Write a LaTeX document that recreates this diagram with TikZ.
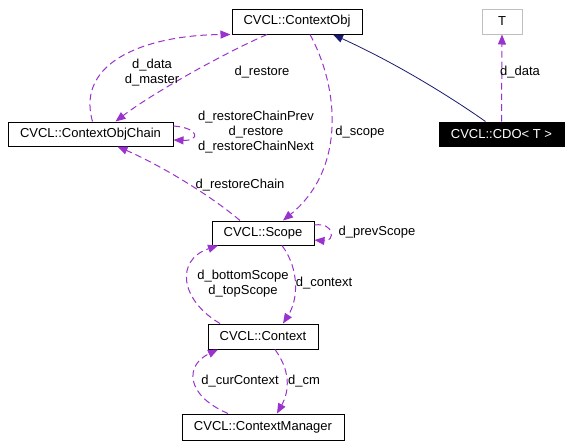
\documentclass[tikz,border=0pt]{standalone}
\usepackage{fontspec}
\setmainfont{Liberation Sans}
\usepackage{tikz}
\usetikzlibrary{arrows.meta,calc}
\definecolor{cdpurple}{HTML}{9A32CD}
\definecolor{cdnavy}{HTML}{191970}
\tikzset{
  cdfont/.style={font=\fontsize{9.75pt}{11.25pt}\selectfont},
  cdbox/.style={cdfont, draw=black, line width=0.75pt, fill=white, inner sep=0pt, minimum height=18.75pt},
  cdghost/.style={cdbox, draw=black!25},
  cdcur/.style={cdbox, fill=black, text=white},
  cdlbl/.style={cdfont, align=center, inner sep=0pt},
  cdmember/.style={draw=cdpurple, line width=0.75pt, dash pattern=on 5pt off 3pt, -{Triangle[length=7.5pt,width=6pt,fill=cdpurple]}},
  cdinherit/.style={draw=cdnavy, line width=0.6pt, -{Triangle[length=7.5pt,width=6pt,fill=cdnavy]}},
}
\begin{document}
\begin{tikzpicture}[x=0.75pt,y=-0.75pt]
\useasboundingbox (0,0) rectangle (571,447);
\node[cdbox, minimum width=130*0.75pt] (ctxobj) at (297,21.5) {CVCL::ContextObj};
\node[cdghost, minimum width=40*0.75pt] (tparam) at (502,21.5) {T};
\node[cdcur, minimum width=125*0.75pt, minimum height=18pt] (cdo) at (501.5,134) {CVCL::CDO< T >};
\node[cdbox, minimum width=165*0.75pt, minimum height=18pt] (chain) at (90.5,134) {CVCL::ContextObjChain};
\node[cdbox, minimum width=102*0.75pt, minimum height=18pt] (scope) at (263,233) {CVCL::Scope};
\node[cdbox, minimum width=110*0.75pt] (context) at (263,336.5) {CVCL::Context};
\node[cdbox, minimum width=162*0.75pt, minimum height=19.5pt] (manager) at (263,427) {CVCL::ContextManager};
\draw[cdinherit] ($(cdo.north)+(-16,0)$) .. controls (455,100) and (400,65) .. ($(ctxobj.south)+(36,0)$);
\draw[cdmember] (cdo.north) -- (tparam.south);
\draw[cdmember] ($(chain.north)+(2,0)$) .. controls (75,60) and (150,35) .. ($(ctxobj.south west)+(-1,0)$);
\draw[cdmember] ($(ctxobj.south)+(-30,0)$) .. controls (220,55) and (150,95) .. ($(chain.north)+(25,0)$);
\draw[cdmember] ($(chain.east)+(0,-8)$) .. controls (200,128) and (200,141) .. ($(chain.east)+(0,6)$);
\draw[cdmember] ($(scope.north)+(-23,0)$) .. controls (210,195) and (160,165) .. ($(chain.south)+(27,0)$);
\draw[cdmember] ($(ctxobj.south)+(13,0)$) .. controls (340,90) and (345,170) .. ($(scope.north)+(20,0)$);
\draw[cdmember] ($(scope.east)+(0,-8)$) .. controls (335,222) and (335,242) .. ($(scope.east)+(0,7)$);
\draw[cdmember] ($(context.north)+(-43,0)$) .. controls (180,300) and (175,260) .. ($(scope.south)+(-45,0)$);
\draw[cdmember] ($(scope.south)+(19,0)$) .. controls (300,270) and (298,300) .. ($(context.north)+(20,0)$);
\draw[cdmember] ($(manager.north)+(-35,0)$) .. controls (185,395) and (185,365) .. ($(context.south)+(-45,0)$);
\draw[cdmember] ($(context.south)+(12,0)$) .. controls (290,370) and (290,390) .. ($(manager.north)+(14,0)$);
\node[cdlbl] (ltdata) at (520,72) {d\_data};
\node[cdlbl] (ldata) at (152,73) {d\_data\\d\_master};
\node[cdlbl] (lrestore) at (262,72) {d\_restore};
\node[cdlbl] (lchain) at (256,132) {d\_restoreChainPrev\\d\_restore\\d\_restoreChainNext};
\node[cdlbl] (lscope) at (360,132) {d\_scope};
\node[cdlbl] (lrchain) at (240,185) {d\_restoreChain};
\node[cdlbl] (lprev) at (377,232) {d\_prevScope};
\node[cdlbl] (lbottom) at (243,284) {d\_bottomScope\\d\_topScope};
\node[cdlbl] (lcontext) at (324,283) {d\_context};
\node[cdlbl] (lcur) at (240,381) {d\_curContext};
\node[cdlbl] (lcm) at (304,381) {d\_cm};
\end{tikzpicture}
\end{document}
